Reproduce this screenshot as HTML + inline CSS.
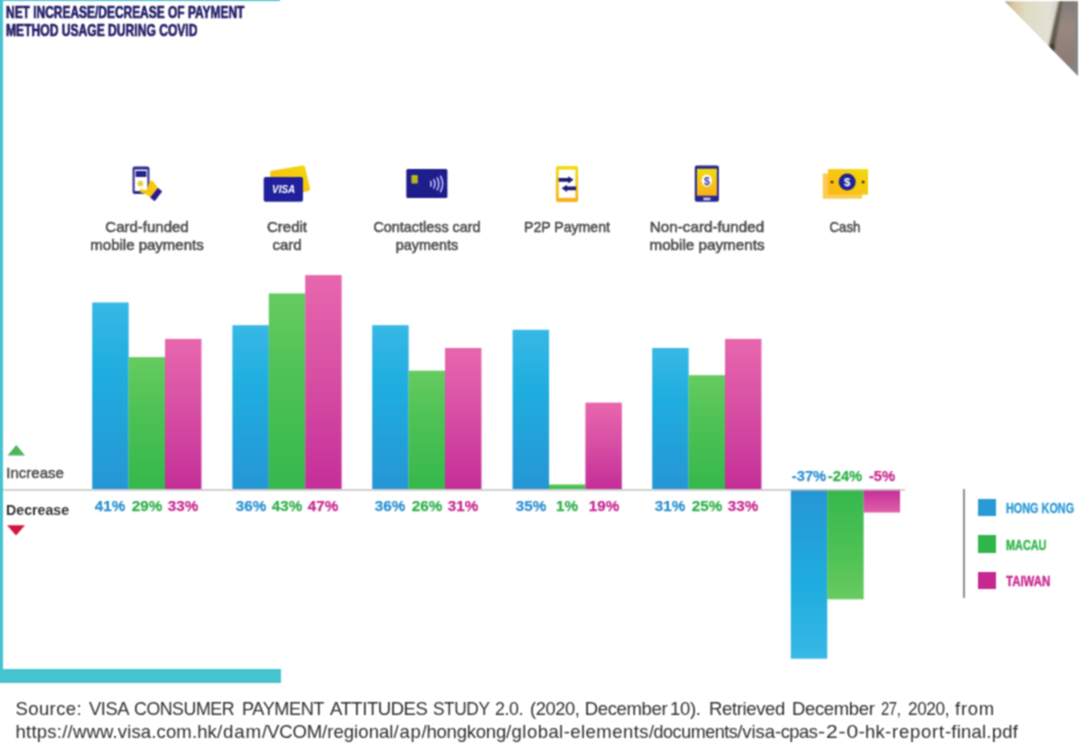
<!DOCTYPE html>
<html lang="en"><head><meta charset="utf-8"><title>Net increase/decrease of payment method usage during COVID</title>
<style>
html,body{margin:0;padding:0;background:#fff;}
body{width:1080px;height:750px;position:relative;overflow:hidden;font-family:"Liberation Sans",sans-serif;}
.t{position:absolute;white-space:pre;transform-origin:0 50%;}
.b{position:absolute;}
.hk{background:linear-gradient(to bottom,#38B8E6 0%,#1FAEDF 35%,#2596D4 100%);}
.mo{background:linear-gradient(to bottom,#66CB60 0%,#4FC255 40%,#35B84C 100%);}
.tw{background:linear-gradient(to bottom,#E866AE 0%,#D850A4 45%,#C42E98 100%);}
.hkn{background:linear-gradient(to bottom,#2596D4 0%,#1FAEDF 60%,#38B8E6 100%);}
.mon{background:linear-gradient(to bottom,#35B84C 0%,#4FC255 60%,#66CB60 100%);}
.twn{background:linear-gradient(to bottom,#C42E98 0%,#E060AA 100%);}
svg{position:absolute;overflow:visible;}
</style></head><body><svg width="0" height="0" style="position:absolute"><filter id="soft" x="0" y="0" width="100%" height="100%" color-interpolation-filters="sRGB"><feConvolveMatrix order="3" kernelMatrix="1 2 1 2 4 2 1 2 1" divisor="16" edgeMode="duplicate"/></filter></svg><div id="stage" style="position:absolute;left:0;top:0;width:1080px;height:750px;filter:url(#soft)">
<div class="b" style="left:-8px;top:-8px;width:11.3px;height:690.5px;background:#45C3CE"></div>
<div class="b" style="left:-8px;top:-8px;width:288px;height:9.4px;background:#45C3CE"></div>
<div class="b" style="left:-8px;top:668.6px;width:288.5px;height:14.2px;background:#45C3CE"></div>
<div class="t" style="left:6px;top:1.83px;font-size:17.3px;line-height:20.76px;color:#211C66;font-weight:700;transform:scaleX(0.6914);-webkit-text-stroke:0.7px #211C66;">NET INCREASE/DECREASE OF PAYMENT</div>
<div class="t" style="left:6px;top:19.93px;font-size:17.3px;line-height:20.76px;color:#211C66;font-weight:700;transform:scaleX(0.6997);-webkit-text-stroke:0.7px #211C66;">METHOD USAGE DURING COVID</div>
<svg style="left:1000px;top:0" width="80" height="80" viewBox="1000 0 80 80">
<defs><clipPath id="tri"><polygon points="1004.7,1.3 1078,1.3 1078,76"/></clipPath>
<linearGradient id="pg" x1="0" x2="1" y1="0" y2="0"><stop offset="0.07" stop-color="#A2A29E"/><stop offset="0.16" stop-color="#D8C79C"/><stop offset="0.32" stop-color="#DEDCC4"/><stop offset="0.62" stop-color="#E3E1D6"/><stop offset="0.70" stop-color="#D6D4CA"/></linearGradient>
<linearGradient id="bg2" x1="0" x2="0" y1="0" y2="1"><stop offset="0" stop-color="#7E7A74"/><stop offset="0.35" stop-color="#9A8880"/><stop offset="0.75" stop-color="#8C7C76"/><stop offset="1" stop-color="#8A8784"/></linearGradient>
<filter id="sb" x="-20%" y="-20%" width="140%" height="140%"><feGaussianBlur stdDeviation="1.1"/></filter>
</defs>
<g clip-path="url(#tri)">
<rect x="1000" y="0" width="80" height="80" fill="url(#pg)"/>
<g filter="url(#sb)">
<polygon points="1060,-3 1083,-3 1083,83 1046,83 1050,45" fill="url(#bg2)"/>
<polygon points="1060,-3 1063,-3 1056,40 1053,52 1048,50" fill="#5E584C"/>
<ellipse cx="1052.5" cy="47" rx="2.6" ry="4" fill="#3C382E"/>
<rect x="1075" y="-3" width="6" height="86" fill="#858585"/>
</g>
</g></svg>
<svg style="left:0;top:0" width="1080" height="750" viewBox="0 0 1080 750"><defs>
<linearGradient id="hk" x1="0" x2="0" y1="0" y2="1"><stop offset="0" stop-color="#38B8E6"/><stop offset="0.35" stop-color="#1FAEDF"/><stop offset="1" stop-color="#2596D4"/></linearGradient>
<linearGradient id="mo" x1="0" x2="0" y1="0" y2="1"><stop offset="0" stop-color="#66CB60"/><stop offset="0.4" stop-color="#4FC255"/><stop offset="1" stop-color="#35B84C"/></linearGradient>
<linearGradient id="tw" x1="0" x2="0" y1="0" y2="1"><stop offset="0" stop-color="#E866AE"/><stop offset="0.45" stop-color="#D850A4"/><stop offset="1" stop-color="#C42E98"/></linearGradient>
<linearGradient id="hkn" x1="0" x2="0" y1="0" y2="1"><stop offset="0" stop-color="#2596D4"/><stop offset="0.6" stop-color="#1FAEDF"/><stop offset="1" stop-color="#38B8E6"/></linearGradient>
<linearGradient id="mon" x1="0" x2="0" y1="0" y2="1"><stop offset="0" stop-color="#35B84C"/><stop offset="0.6" stop-color="#4FC255"/><stop offset="1" stop-color="#66CB60"/></linearGradient>
<linearGradient id="twn" x1="0" x2="0" y1="0" y2="1"><stop offset="0" stop-color="#C42E98"/><stop offset="1" stop-color="#E060AA"/></linearGradient>
</defs>
<rect x="92.2" y="302.5" width="36.45" height="186.5" fill="url(#hk)"/>
<rect x="128.6" y="357.1" width="36.45" height="131.9" fill="url(#mo)"/>
<rect x="165.0" y="338.9" width="36.45" height="150.2" fill="url(#tw)"/>
<rect x="232.4" y="325.2" width="36.45" height="163.8" fill="url(#hk)"/>
<rect x="268.8" y="293.4" width="36.45" height="195.7" fill="url(#mo)"/>
<rect x="305.2" y="275.1" width="36.45" height="213.8" fill="url(#tw)"/>
<rect x="372.2" y="325.2" width="36.45" height="163.8" fill="url(#hk)"/>
<rect x="408.6" y="370.7" width="36.45" height="118.3" fill="url(#mo)"/>
<rect x="445.0" y="348.0" width="36.45" height="141.0" fill="url(#tw)"/>
<rect x="512.6" y="329.8" width="36.45" height="159.2" fill="url(#hk)"/>
<rect x="549.0" y="484.4" width="36.45" height="4.5" fill="url(#mo)"/>
<rect x="585.4" y="402.6" width="36.45" height="86.5" fill="url(#tw)"/>
<rect x="652.2" y="348.0" width="36.45" height="141.0" fill="url(#hk)"/>
<rect x="688.6" y="375.2" width="36.45" height="113.8" fill="url(#mo)"/>
<rect x="725.0" y="338.9" width="36.45" height="150.2" fill="url(#tw)"/>
<rect x="790.8" y="489.6" width="36.45" height="169.1" fill="url(#hkn)"/>
<rect x="827.2" y="489.6" width="36.45" height="109.7" fill="url(#mon)"/>
<rect x="863.6" y="489.6" width="36.45" height="22.9" fill="url(#twn)"/>
<rect x="3" y="489.3" width="902" height="1.4" fill="#bebebe"/>
</svg>
<div class="t" style="left:-39.599999999999994px;width:300px;text-align:center;top:496.53px;font-size:15.5px;line-height:18.6px;color:#2C8FD0;font-weight:700;transform-origin:50% 50%;transform:scaleX(0.98);-webkit-text-stroke:0.25px #2C8FD0;">41%</div>
<div class="t" style="left:-3.200000000000017px;width:300px;text-align:center;top:496.53px;font-size:15.5px;line-height:18.6px;color:#2FB04A;font-weight:700;transform-origin:50% 50%;transform:scaleX(0.98);-webkit-text-stroke:0.25px #2FB04A;">29%</div>
<div class="t" style="left:33.19999999999999px;width:300px;text-align:center;top:496.53px;font-size:15.5px;line-height:18.6px;color:#C7288F;font-weight:700;transform-origin:50% 50%;transform:scaleX(0.98);-webkit-text-stroke:0.25px #C7288F;">33%</div>
<div class="t" style="left:100.6px;width:300px;text-align:center;top:496.53px;font-size:15.5px;line-height:18.6px;color:#2C8FD0;font-weight:700;transform-origin:50% 50%;transform:scaleX(0.98);-webkit-text-stroke:0.25px #2C8FD0;">36%</div>
<div class="t" style="left:137.0px;width:300px;text-align:center;top:496.53px;font-size:15.5px;line-height:18.6px;color:#2FB04A;font-weight:700;transform-origin:50% 50%;transform:scaleX(0.98);-webkit-text-stroke:0.25px #2FB04A;">43%</div>
<div class="t" style="left:173.39999999999998px;width:300px;text-align:center;top:496.53px;font-size:15.5px;line-height:18.6px;color:#C7288F;font-weight:700;transform-origin:50% 50%;transform:scaleX(0.98);-webkit-text-stroke:0.25px #C7288F;">47%</div>
<div class="t" style="left:240.39999999999998px;width:300px;text-align:center;top:496.53px;font-size:15.5px;line-height:18.6px;color:#2C8FD0;font-weight:700;transform-origin:50% 50%;transform:scaleX(0.98);-webkit-text-stroke:0.25px #2C8FD0;">36%</div>
<div class="t" style="left:276.79999999999995px;width:300px;text-align:center;top:496.53px;font-size:15.5px;line-height:18.6px;color:#2FB04A;font-weight:700;transform-origin:50% 50%;transform:scaleX(0.98);-webkit-text-stroke:0.25px #2FB04A;">26%</div>
<div class="t" style="left:313.2px;width:300px;text-align:center;top:496.53px;font-size:15.5px;line-height:18.6px;color:#C7288F;font-weight:700;transform-origin:50% 50%;transform:scaleX(0.98);-webkit-text-stroke:0.25px #C7288F;">31%</div>
<div class="t" style="left:380.80000000000007px;width:300px;text-align:center;top:496.53px;font-size:15.5px;line-height:18.6px;color:#2C8FD0;font-weight:700;transform-origin:50% 50%;transform:scaleX(0.98);-webkit-text-stroke:0.25px #2C8FD0;">35%</div>
<div class="t" style="left:417.20000000000005px;width:300px;text-align:center;top:496.53px;font-size:15.5px;line-height:18.6px;color:#2FB04A;font-weight:700;transform-origin:50% 50%;transform:scaleX(0.98);-webkit-text-stroke:0.25px #2FB04A;">1%</div>
<div class="t" style="left:453.6px;width:300px;text-align:center;top:496.53px;font-size:15.5px;line-height:18.6px;color:#C7288F;font-weight:700;transform-origin:50% 50%;transform:scaleX(0.98);-webkit-text-stroke:0.25px #C7288F;">19%</div>
<div class="t" style="left:520.4000000000001px;width:300px;text-align:center;top:496.53px;font-size:15.5px;line-height:18.6px;color:#2C8FD0;font-weight:700;transform-origin:50% 50%;transform:scaleX(0.98);-webkit-text-stroke:0.25px #2C8FD0;">31%</div>
<div class="t" style="left:556.8000000000001px;width:300px;text-align:center;top:496.53px;font-size:15.5px;line-height:18.6px;color:#2FB04A;font-weight:700;transform-origin:50% 50%;transform:scaleX(0.98);-webkit-text-stroke:0.25px #2FB04A;">25%</div>
<div class="t" style="left:593.2px;width:300px;text-align:center;top:496.53px;font-size:15.5px;line-height:18.6px;color:#C7288F;font-weight:700;transform-origin:50% 50%;transform:scaleX(0.98);-webkit-text-stroke:0.25px #C7288F;">33%</div>
<div class="t" style="left:659.0px;width:300px;text-align:center;top:467.23px;font-size:15.5px;line-height:18.6px;color:#2C8FD0;font-weight:700;transform-origin:50% 50%;transform:scaleX(0.95);-webkit-text-stroke:0.25px #2C8FD0;">-37%</div>
<div class="t" style="left:695.4px;width:300px;text-align:center;top:467.23px;font-size:15.5px;line-height:18.6px;color:#2FB04A;font-weight:700;transform-origin:50% 50%;transform:scaleX(0.95);-webkit-text-stroke:0.25px #2FB04A;">-24%</div>
<div class="t" style="left:731.8px;width:300px;text-align:center;top:467.23px;font-size:15.5px;line-height:18.6px;color:#C7288F;font-weight:700;transform-origin:50% 50%;transform:scaleX(0.95);-webkit-text-stroke:0.25px #C7288F;">-5%</div>
<div class="t" style="left:-3px;width:300px;text-align:center;top:217.80px;font-size:15px;line-height:18.0px;color:#4d4d4d;font-weight:400;transform-origin:50% 50%;-webkit-text-stroke:0.55px #4d4d4d;">Card-funded</div>
<div class="t" style="left:-3px;width:300px;text-align:center;top:235.80px;font-size:15px;line-height:18.0px;color:#4d4d4d;font-weight:400;transform-origin:50% 50%;-webkit-text-stroke:0.55px #4d4d4d;">mobile payments</div>
<div class="t" style="left:137px;width:300px;text-align:center;top:217.80px;font-size:15px;line-height:18.0px;color:#4d4d4d;font-weight:400;transform-origin:50% 50%;-webkit-text-stroke:0.55px #4d4d4d;">Credit</div>
<div class="t" style="left:137px;width:300px;text-align:center;top:235.80px;font-size:15px;line-height:18.0px;color:#4d4d4d;font-weight:400;transform-origin:50% 50%;-webkit-text-stroke:0.55px #4d4d4d;">card</div>
<div class="t" style="left:277px;width:300px;text-align:center;top:217.80px;font-size:15px;line-height:18.0px;color:#4d4d4d;font-weight:400;transform-origin:50% 50%;transform:scaleX(0.96);-webkit-text-stroke:0.55px #4d4d4d;">Contactless card</div>
<div class="t" style="left:277px;width:300px;text-align:center;top:235.80px;font-size:15px;line-height:18.0px;color:#4d4d4d;font-weight:400;transform-origin:50% 50%;transform:scaleX(0.96);-webkit-text-stroke:0.55px #4d4d4d;">payments</div>
<div class="t" style="left:417px;width:300px;text-align:center;top:217.80px;font-size:15px;line-height:18.0px;color:#4d4d4d;font-weight:400;transform-origin:50% 50%;transform:scaleX(0.94);-webkit-text-stroke:0.55px #4d4d4d;">P2P Payment</div>
<div class="t" style="left:557px;width:300px;text-align:center;top:217.80px;font-size:15px;line-height:18.0px;color:#4d4d4d;font-weight:400;transform-origin:50% 50%;transform:scaleX(1.015);-webkit-text-stroke:0.55px #4d4d4d;">Non-card-funded</div>
<div class="t" style="left:557px;width:300px;text-align:center;top:235.80px;font-size:15px;line-height:18.0px;color:#4d4d4d;font-weight:400;transform-origin:50% 50%;transform:scaleX(1.015);-webkit-text-stroke:0.55px #4d4d4d;">mobile payments</div>
<div class="t" style="left:695px;width:300px;text-align:center;top:217.80px;font-size:15px;line-height:18.0px;color:#4d4d4d;font-weight:400;transform-origin:50% 50%;transform:scaleX(0.88);-webkit-text-stroke:0.55px #4d4d4d;">Cash</div>
<svg style="left:0;top:0" width="80" height="750"><polygon points="7.5,455.6 25,455.6 16.3,445" fill="#4FB45A"/><polygon points="7,525.3 25,525.3 16,535.5" fill="#D8123F"/></svg>
<div class="t" style="left:6.3px;top:464.00px;font-size:15px;line-height:18.0px;color:#4a4a4a;font-weight:400;-webkit-text-stroke:0.45px #4a4a4a;">Increase</div>
<div class="t" style="left:6.3px;top:500.60px;font-size:15px;line-height:18.0px;color:#333;font-weight:700;transform:scaleX(0.946);">Decrease</div>
<div class="b" style="left:962.6px;top:488.8px;width:2px;height:109px;background:#8e8e8e"></div>
<div class="b" style="left:977.8px;top:498.7px;width:18.6px;height:17.8px;background:#2A9AD6"></div>
<div class="t" style="left:1005.5px;top:499.31px;font-size:15.2px;line-height:18.24px;color:#2A9AD6;font-weight:700;transform:scaleX(0.714);-webkit-text-stroke:0.4px #2A9AD6;">HONG KONG</div>
<div class="b" style="left:977.8px;top:535.4px;width:18.6px;height:17.8px;background:#2FB54A"></div>
<div class="t" style="left:1005.5px;top:535.71px;font-size:15.2px;line-height:18.24px;color:#2FB54A;font-weight:700;transform:scaleX(0.716);-webkit-text-stroke:0.4px #2FB54A;">MACAU</div>
<div class="b" style="left:977.8px;top:571.5px;width:18.6px;height:17.8px;background:#C7288F"></div>
<div class="t" style="left:1005.5px;top:572.11px;font-size:15.2px;line-height:18.24px;color:#C7288F;font-weight:700;transform:scaleX(0.752);-webkit-text-stroke:0.4px #C7288F;">TAIWAN</div>
<div class="t" style="left:15.5px;top:698.09px;font-size:18.5px;line-height:22.2px;color:#2e2e2e;font-weight:400;letter-spacing:0.391px;">Source:</div>
<div class="t" style="left:89px;top:698.09px;font-size:18.5px;line-height:22.2px;color:#2e2e2e;font-weight:400;letter-spacing:-0.45px;transform:scaleX(0.9908);">VISA</div>
<div class="t" style="left:134px;top:698.09px;font-size:18.5px;line-height:22.2px;color:#2e2e2e;font-weight:400;letter-spacing:-0.45px;transform:scaleX(0.9586);">CONSUMER</div>
<div class="t" style="left:241.5px;top:698.09px;font-size:18.5px;line-height:22.2px;color:#2e2e2e;font-weight:400;letter-spacing:-0.45px;transform:scaleX(0.9816);">PAYMENT</div>
<div class="t" style="left:330px;top:698.09px;font-size:18.5px;line-height:22.2px;color:#2e2e2e;font-weight:400;letter-spacing:-0.45px;">ATTITUDES</div>
<div class="t" style="left:433px;top:698.09px;font-size:18.5px;line-height:22.2px;color:#2e2e2e;font-weight:400;letter-spacing:-0.45px;transform:scaleX(0.9346);">STUDY</div>
<div class="t" style="left:495px;top:698.09px;font-size:18.5px;line-height:22.2px;color:#2e2e2e;font-weight:400;letter-spacing:-0.45px;transform:scaleX(0.9635);">2.0.</div>
<div class="t" style="left:529.7px;top:698.09px;font-size:18.5px;line-height:22.2px;color:#2e2e2e;font-weight:400;letter-spacing:-0.45px;transform:scaleX(0.9906);">(2020,</div>
<div class="t" style="left:584.7px;top:698.09px;font-size:18.5px;line-height:22.2px;color:#2e2e2e;font-weight:400;letter-spacing:-0.343px;">December</div>
<div class="t" style="left:670px;top:698.09px;font-size:18.5px;line-height:22.2px;color:#2e2e2e;font-weight:400;letter-spacing:-0.348px;">10).</div>
<div class="t" style="left:709px;top:698.09px;font-size:18.5px;line-height:22.2px;color:#2e2e2e;font-weight:400;letter-spacing:-0.354px;">Retrieved</div>
<div class="t" style="left:792px;top:698.09px;font-size:18.5px;line-height:22.2px;color:#2e2e2e;font-weight:400;letter-spacing:-0.355px;">December</div>
<div class="t" style="left:881px;top:698.09px;font-size:18.5px;line-height:22.2px;color:#2e2e2e;font-weight:400;letter-spacing:-0.45px;transform:scaleX(0.8002);">27,</div>
<div class="t" style="left:908px;top:698.09px;font-size:18.5px;line-height:22.2px;color:#2e2e2e;font-weight:400;letter-spacing:-0.45px;transform:scaleX(0.9308);">2020,</div>
<div class="t" style="left:955px;top:698.09px;font-size:18.5px;line-height:22.2px;color:#2e2e2e;font-weight:400;letter-spacing:0.75px;">from</div>
<div class="t" style="left:15.5px;top:721.09px;font-size:18.5px;line-height:22.2px;color:#2e2e2e;font-weight:400;letter-spacing:0.246px;">https://</div>
<div class="t" style="left:73px;top:721.09px;font-size:18.5px;line-height:22.2px;color:#2e2e2e;font-weight:400;letter-spacing:0.142px;">www.visa.com.hk</div>
<div class="t" style="left:217px;top:721.09px;font-size:18.5px;line-height:22.2px;color:#2e2e2e;font-weight:400;letter-spacing:0.8px;transform:scaleX(1.0149);">/dam</div>
<div class="t" style="left:262px;top:721.09px;font-size:18.5px;line-height:22.2px;color:#2e2e2e;font-weight:400;letter-spacing:-0.128px;">/VCOM</div>
<div class="t" style="left:322px;top:721.09px;font-size:18.5px;line-height:22.2px;color:#2e2e2e;font-weight:400;letter-spacing:0.059px;">/regional</div>
<div class="t" style="left:393.5px;top:721.09px;font-size:18.5px;line-height:22.2px;color:#2e2e2e;font-weight:400;letter-spacing:0.76px;">/ap</div>
<div class="t" style="left:421.5px;top:721.09px;font-size:18.5px;line-height:22.2px;color:#2e2e2e;font-weight:400;letter-spacing:-0.214px;">/hongkong</div>
<div class="t" style="left:506px;top:721.09px;font-size:18.5px;line-height:22.2px;color:#2e2e2e;font-weight:400;letter-spacing:0.453px;">/global-elements</div>
<div class="t" style="left:649px;top:721.09px;font-size:18.5px;line-height:22.2px;color:#2e2e2e;font-weight:400;letter-spacing:-0.45px;transform:scaleX(0.9688);">/documents</div>
<div class="t" style="left:737.3px;top:721.09px;font-size:18.5px;line-height:22.2px;color:#2e2e2e;font-weight:400;letter-spacing:-0.069px;">/visa</div>
<div class="t" style="left:775px;top:721.09px;font-size:18.5px;line-height:22.2px;color:#2e2e2e;font-weight:400;letter-spacing:-0.45px;transform:scaleX(0.9884);">-cpas</div>
<div class="t" style="left:817.5px;top:721.09px;font-size:18.5px;line-height:22.2px;color:#2e2e2e;font-weight:400;letter-spacing:0.8px;transform:scaleX(1.1425);">-2-0</div>
<div class="t" style="left:858.75px;top:721.09px;font-size:18.5px;line-height:22.2px;color:#2e2e2e;font-weight:400;letter-spacing:0.182px;">-hk</div>
<div class="t" style="left:885px;top:721.09px;font-size:18.5px;line-height:22.2px;color:#2e2e2e;font-weight:400;letter-spacing:0.786px;">-report</div>
<div class="t" style="left:945px;top:721.09px;font-size:18.5px;line-height:22.2px;color:#2e2e2e;font-weight:400;letter-spacing:0.203px;">-final.pdf</div>
<svg style="left:0;top:0" width="1080" height="260" viewBox="0 0 1080 260" font-family="Liberation Sans, sans-serif">
<defs>
<linearGradient id="yg" x1="0" x2="1" y1="1" y2="0"><stop offset="0" stop-color="#FDB515"/><stop offset="1" stop-color="#F0DA0A"/></linearGradient>
<linearGradient id="yv" x1="0" x2="0" y1="0" y2="1"><stop offset="0" stop-color="#EFDC12"/><stop offset="1" stop-color="#FBAF1A"/></linearGradient>
</defs>
<!-- 1 phone in hand -->
<g>
<rect x="132.6" y="166.5" width="16.8" height="27.6" rx="2" fill="#2E2C8E"/>
<rect x="134.6" y="169.6" width="12.8" height="21.4" fill="#fff"/>
<rect x="135.6" y="171" width="10.8" height="6" fill="#25238A"/>
<circle cx="140.4" cy="183.6" r="2.9" fill="#E6D23C"/>
<polygon points="139.8,189 146.5,190.2 150.2,180.6 153.2,181.2 158.6,189 151.5,198.2 146,194.2 140.5,192.6" fill="#F7C70F"/>
<polygon points="150.2,197.6 154.6,201.2 162.2,191.4 158,187.8" fill="#2A1B93"/>
</g>
<!-- 2 visa cards -->
<g>
<path d="M270.3,171 L302.3,165.6 Q304.6,165.2 305.2,167.4 L310,188.6 Q310.4,190.4 308.6,190.9 L302,192.6 L270,192.6 Z" fill="url(#yg)"/>
<rect x="263.7" y="176.9" width="39.3" height="24.8" rx="2" fill="#20209C"/>
<text x="283.6" y="193.4" font-size="11" font-weight="700" font-style="italic" fill="#fff" text-anchor="middle" textLength="23" lengthAdjust="spacingAndGlyphs">VISA</text>
</g>
<!-- 3 contactless card -->
<g>
<rect x="406.3" y="169.1" width="41.1" height="28.9" rx="1.5" fill="#1E1D8C"/>
<rect x="411.4" y="175" width="6.4" height="8.6" rx="1.2" fill="#B4B81C"/>
<g fill="none" stroke="#C6C9FF" stroke-width="1.5" stroke-linecap="round">
<path d="M430.6,181.4 Q431.8,183.8 430.6,186.2"/>
<path d="M433.8,179.6 Q436,183.8 433.8,188"/>
<path d="M437.2,177.8 Q440.4,183.8 437.2,189.8"/>
<path d="M440.6,176.2 Q444.8,183.8 440.6,191.6"/>
</g>
</g>
<!-- 4 p2p phone -->
<g>
<rect x="555.9" y="166.1" width="22.2" height="35.9" rx="2" fill="url(#yv)"/>
<rect x="558.7" y="169.6" width="16.7" height="28.2" fill="#fff"/>
<g fill="#1E1A78">
<path d="M558.6,177.9 H568.2 V176.2 L573.6,179.8 L568.2,183.4 V181.7 H558.6 Z"/>
<path d="M576,186.4 H567 V184.7 L561.6,188.3 L567,191.9 V190.2 H576 Z"/>
</g>
</g>
<!-- 5 phone with $ -->
<g>
<rect x="694.8" y="165.4" width="24.1" height="36.3" rx="2" fill="#26248F"/>
<rect x="696.9" y="168.7" width="20" height="27" fill="url(#yv)"/>
<ellipse cx="706.8" cy="180.6" rx="5.2" ry="6.1" fill="#fff"/>
<text x="706.8" y="184.5" font-size="10.5" font-weight="700" fill="#3A3A9E" text-anchor="middle">$</text>
<rect x="703.3" y="197.6" width="7.1" height="2.6" fill="#C8C9F8"/>
</g>
<!-- 6 cash -->
<g>
<rect x="822.8" y="173.5" width="39.2" height="25.2" fill="#FBCB52"/>
<rect x="828" y="169.1" width="40" height="25.5" fill="url(#yg)"/>
<circle cx="847.2" cy="182" r="8.5" fill="#1E2396"/>
<text x="847.2" y="186.2" font-size="11.5" font-weight="700" fill="#fff" text-anchor="middle">$</text>
<circle cx="832" cy="182" r="1.6" fill="#5A3B16"/>
<circle cx="863.1" cy="182" r="1.6" fill="#5A3B16"/>
</g>
</svg>
</div></body></html>
